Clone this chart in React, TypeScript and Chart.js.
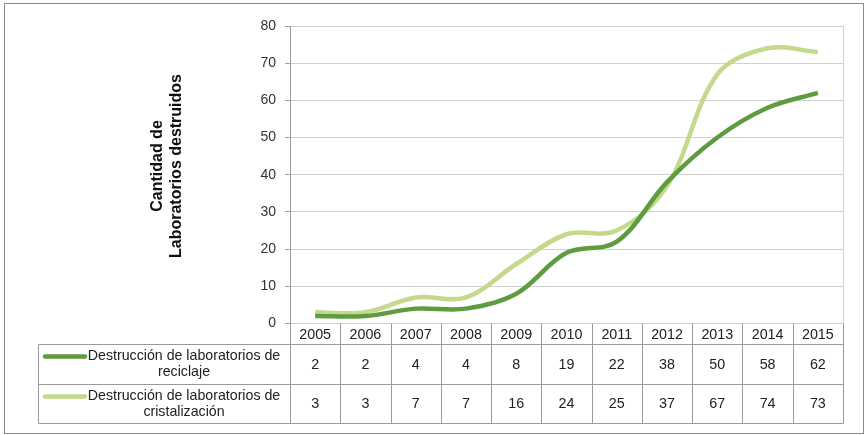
import React, { useEffect, useRef } from "react";
import { Chart, registerables } from "chart.js";

Chart.register(...registerables);

const years = ["2005", "2006", "2007", "2008", "2009", "2010", "2011", "2012", "2013", "2014", "2015"];
const reciclaje = [2, 2, 4, 4, 8, 19, 22, 38, 50, 58, 62];
const cristalizacion = [3, 3, 7, 7, 16, 24, 25, 37, 67, 74, 73];
const reciclajeLabel = ["Destrucción de laboratorios de", "reciclaje"];
const cristalizacionLabel = ["Destrucción de laboratorios de", "cristalización"];
const axisTitle = ["Cantidad de", "Laboratorios destruidos"];

const DARK = "#5f9b3f";
const LIGHT = "#c4d98b";
const GRID = "#d0d0d0";
const TABLE_LINE = "#9a9a9a";
const FONT = "'Liberation Sans', Arial, sans-serif";

const tablePlugin = {
  id: "tablePlugin",
  afterDraw(chart: any) {
    const ctx = chart.ctx as CanvasRenderingContext2D;
    const area = chart.chartArea;
    const x = chart.scales.x;
    const n = chart.data.labels.length;
    const colW = (area.right - area.left) / n;
    const headTop = area.bottom;
    const headBot = headTop + 20.5;
    const row1Bot = headBot + 40;
    const row2Bot = row1Bot + 39;
    const tableLeft = 38.5;

    ctx.save();
    // outer frame
    ctx.strokeStyle = "#8a8a8a";
    ctx.lineWidth = 1;
    ctx.strokeRect(4.5, 3.5, 859, 430);

    // plot right border
    ctx.strokeStyle = GRID;
    ctx.beginPath();
    ctx.moveTo(Math.round(area.right) + 0.5, area.top);
    ctx.lineTo(Math.round(area.right) + 0.5, area.bottom);
    ctx.stroke();

    // table lines
    ctx.strokeStyle = TABLE_LINE;
    ctx.beginPath();
    for (const yy of [headBot, row1Bot, row2Bot]) {
      ctx.moveTo(tableLeft, Math.round(yy) + 0.5);
      ctx.lineTo(area.right + 0.5, Math.round(yy) + 0.5);
    }
    ctx.moveTo(tableLeft, Math.round(headBot) + 0.5);
    ctx.lineTo(tableLeft, Math.round(row2Bot) + 0.5);
    for (let i = 0; i <= n; i++) {
      const px = Math.round(area.left + i * colW) + 0.5;
      ctx.moveTo(px, headTop);
      ctx.lineTo(px, Math.round(row2Bot) + 0.5);
    }
    ctx.stroke();

    // header years and values
    ctx.fillStyle = "#222";
    ctx.textAlign = "center";
    ctx.textBaseline = "middle";
    ctx.font = `14.3px ${FONT}`;
    const ds = chart.data.datasets;
    for (let i = 0; i < n; i++) {
      const cx = x.getPixelForValue(i);
      ctx.fillText(String(chart.data.labels[i]), cx, (headTop + headBot) / 2 + 1);
      ctx.fillText(String(ds[0].data[i]), cx, (headBot + row1Bot) / 2 + 1);
      ctx.fillText(String(ds[1].data[i]), cx, (row1Bot + row2Bot) / 2 + 1);
    }

    // legend cells
    const rows = [
      { top: headBot, color: DARK, lines: reciclajeLabel },
      { top: row1Bot, color: LIGHT, lines: cristalizacionLabel },
    ];
    ctx.font = `14.2px ${FONT}`;
    for (const r of rows) {
      const y1 = r.top + 12.5;
      ctx.strokeStyle = r.color;
      ctx.lineWidth = 4.5;
      ctx.lineCap = "round";
      ctx.beginPath();
      ctx.moveTo(45, y1);
      ctx.lineTo(85, y1);
      ctx.stroke();
      ctx.fillStyle = "#222";
      ctx.fillText(r.lines[0], 184, y1);
      ctx.fillText(r.lines[1], 184, y1 + 15.5);
    }

    // y axis title
    ctx.translate(167, 166);
    ctx.rotate(-Math.PI / 2);
    ctx.font = `bold 16px ${FONT}`;
    ctx.fillStyle = "#111";
    ctx.fillText(axisTitle[0], 0, -9.5);
    ctx.fillText(axisTitle[1], 0, 9.5);
    ctx.restore();
  },
};

export default function App() {
  const ref = useRef<HTMLCanvasElement>(null);
  useEffect(() => {
    if (!ref.current) return;
    const chart = new Chart(ref.current, {
      type: "line",
      data: {
        labels: years,
        datasets: [
          {
            label: reciclajeLabel.join(" "),
            data: reciclaje,
            borderColor: DARK,
            borderWidth: 4.5,
            pointRadius: 0,
            tension: 0.35,
            fill: false,
          },
          {
            label: cristalizacionLabel.join(" "),
            data: cristalizacion,
            borderColor: LIGHT,
            borderWidth: 4.5,
            pointRadius: 0,
            tension: 0.35,
            fill: false,
          },
        ],
      },
      options: {
        animation: false,
        responsive: false,
        devicePixelRatio: 1,
        layout: { padding: { left: 0, right: 25, top: 26, bottom: 111.5 } },
        plugins: { legend: { display: false }, tooltip: { enabled: false }, title: { display: false } },
        scales: {
          x: { display: false, offset: true },
          y: {
            min: 0,
            max: 80,
            ticks: { stepSize: 10, color: "#333", font: { family: FONT, size: 14 }, padding: 9 },
            grid: { color: GRID, tickLength: 5, tickColor: "#a0a0a0" },
            border: { color: "#9a9a9a", width: 1 },
            afterFit: (scale: any) => {
              scale.width = 290;
            },
          },
        },
      },
      plugins: [tablePlugin],
    });
    return () => chart.destroy();
  }, []);
  return (
    <div style={{ position: "absolute", left: 0, top: 0, width: 868, height: 435, background: "#fff" }}>
      <canvas ref={ref} width={868} height={435} style={{ width: 868, height: 435 }} />
    </div>
  );
}
